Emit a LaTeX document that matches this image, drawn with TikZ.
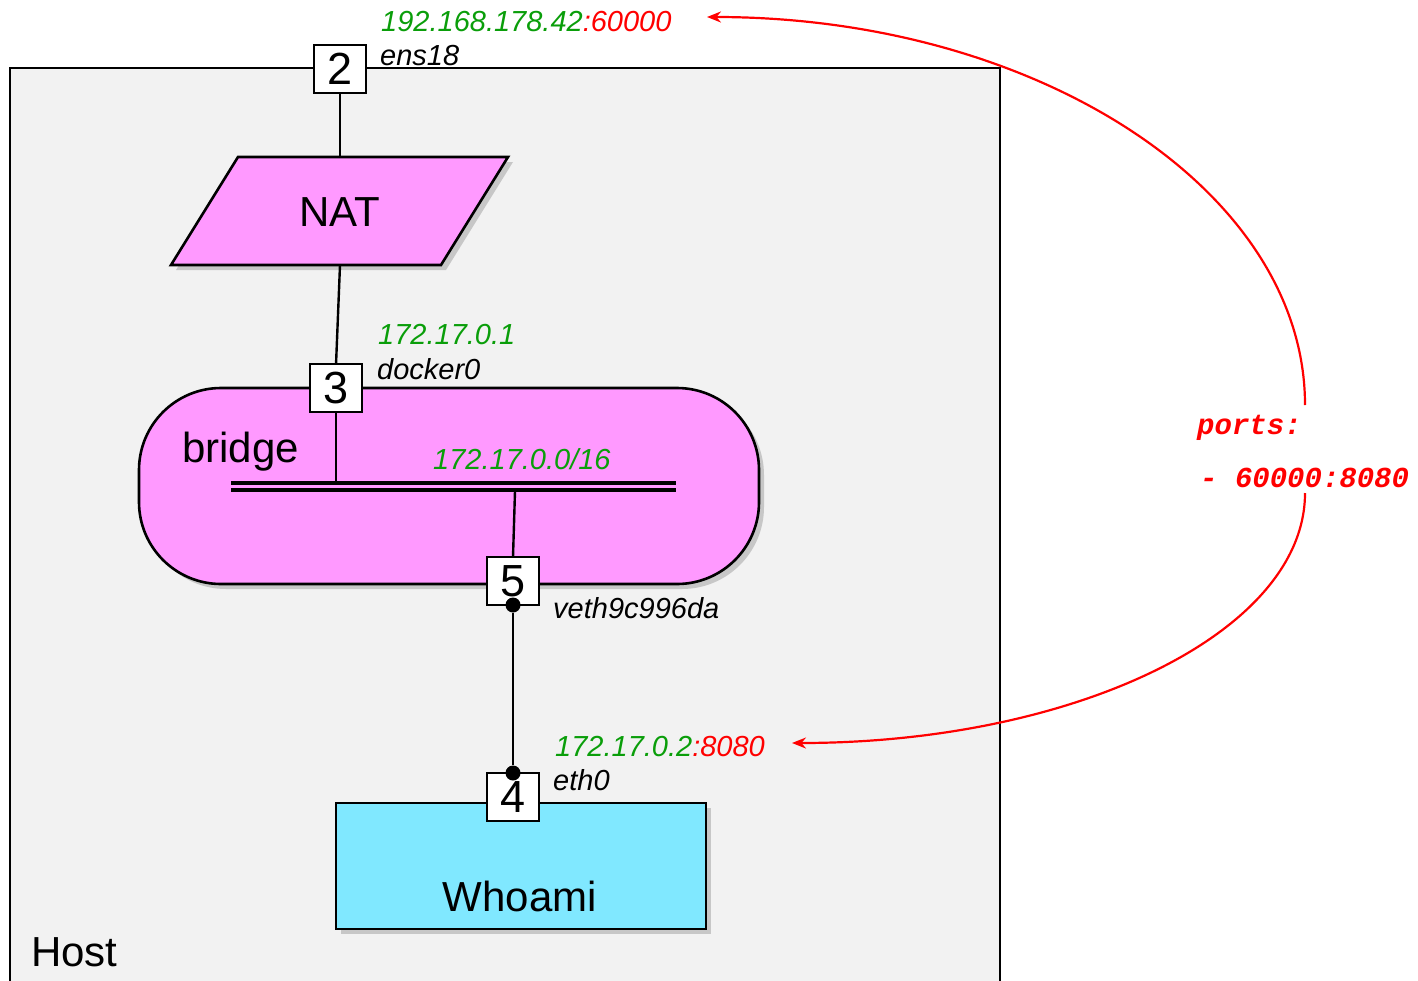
\documentclass[tikz,border=0pt]{standalone}
\usepackage{fontspec}
\setmainfont{Liberation Sans}
\newfontfamily\codefont{Liberation Mono}
\usetikzlibrary{shadows,arrows.meta}
\definecolor{hostfill}{HTML}{F2F2F2}
\definecolor{violetfill}{HTML}{FF99FF}
\definecolor{cyanfill}{HTML}{80E8FF}
\definecolor{ipgreen}{HTML}{0A9E0A}
\definecolor{portred}{HTML}{FF0000}
\tikzset{
  port/.style={draw=black, line width=2.6pt, fill=white, minimum width=52pt, minimum height=48pt, inner sep=0pt, font=\fontsize{45}{48}\selectfont},
  big/.style={font=\fontsize{42}{46}\selectfont, inner sep=0pt},
  small/.style={font=\fontsize{29}{33}\selectfont\itshape, inner sep=0pt, anchor=base west},
  wire/.style={draw=black, line width=2.4pt},
  shad/.style={drop shadow={shadow xshift=5pt, shadow yshift=-5pt, opacity=0.3, fill=black!60}},
  dotc/.style={circle, fill=black, minimum size=15pt, inner sep=0pt},
  redarc/.style={draw=portred, line width=2.2pt, -{Stealth[length=14pt,width=11pt]}},
  code/.style={font=\fontsize{29}{33}\selectfont\codefont\bfseries\itshape, text=portred, inner sep=0pt, anchor=base west}
}
\begin{document}
\begin{tikzpicture}[x=1pt,y=-1pt]
\useasboundingbox (0,0) rectangle (1418,980);
% Host
\draw[fill=hostfill, line width=2.5pt] (10,995) -- (10,68) -- (1000,68) -- (1000,995);
\node[big, anchor=base west] (hostlbl) at (31,966) {Host};
% NAT parallelogram
\path[draw=black, line width=2.6pt, fill=violetfill, shad] (238,157) -- (508,157) -- (441,265) -- (171,265) -- cycle;
\coordinate (natT) at (340,157);
\coordinate (natB) at (340,265);
\node[big] (nat) at (340,212) {NAT};
% bridge
\node[draw=black, line width=2.6pt, fill=violetfill, rounded corners=82pt, minimum width=620pt, minimum height=196pt, shad] (bridge) at (449,486) {};
\node[big, anchor=base west] (bridgelbl) at (182,462) {bridge};
\coordinate (busL1) at (231,483); \coordinate (busR1) at (676,483);
\coordinate (busL2) at (231,490); \coordinate (busR2) at (676,490);
\draw[line width=3.4pt] (busL1) -- (busR1);
\draw[line width=3.4pt] (busL2) -- (busR2);
\coordinate (busA) at (336,481);
\coordinate (busB) at (515,491);
\node[small, text=ipgreen] (netlbl) at (433,469) {172.17.0.0/16};
% Whoami
\node[draw=black, line width=2.6pt, fill=cyanfill, minimum width=370pt, minimum height=126pt, inner sep=0pt, shad] (whoami) at (521,866) {};
\node[big, anchor=base] (whoamilbl) at (520,911) {Whoami};
% connectors
\draw[wire] (natB) -- (336,365);
\draw[wire] (340,93) -- (natT);
\draw[wire] (336,411) -- (busA);
\draw[wire] (busB) -- (513,557);
% ports
\node[port] (p2) at (340,69) {2};
\node[port] (p3) at (336,388) {3};
\node[port] (p5) at (513,581) {5};
\node[port] (p4) at (513,797) {4};
\node[dotc] (d5) at (513,605) {};
\node[dotc] (d4) at (513,773) {};
\draw[wire] (d5) -- (d4);
% labels
\node[small] (ip2) at (381,31) {\textcolor{ipgreen}{192.168.178.42}\textcolor{portred}{:60000}};
\node[small] (n2) at (380,65) {ens18};
\node[small, text=ipgreen] (ip3) at (378,344) {172.17.0.1};
\node[small] (n3) at (377,379) {docker0};
\node[small] (n5) at (553,618) {veth9c996da};
\node[small] (ip4) at (555,756) {\textcolor{ipgreen}{172.17.0.2}\textcolor{portred}{:8080}};
\node[small] (n4) at (553,790) {eth0};
% ports mapping
\node[code] (pl1) at (1197,434) {ports:};
\node[code] (pl2) at (1200,487) {- 60000:8080};
\coordinate (arcA) at (1305,405);
\coordinate (tipA) at (707,17);
\coordinate (arcB) at (1305,493);
\coordinate (tipB) at (792,743);
\draw[redarc] (arcA) .. controls (1305,191) and (1038,17) .. (tipA);
\draw[redarc] (arcB) .. controls (1305,632) and (1076,743) .. (tipB);
\end{tikzpicture}
\end{document}
